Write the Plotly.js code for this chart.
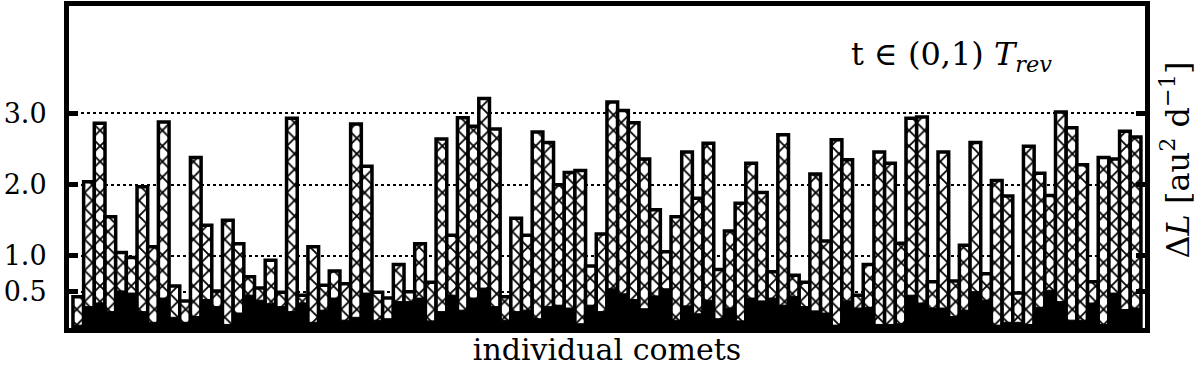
<!DOCTYPE html>
<html>
<head>
<meta charset="utf-8">
<script src="https://cdn.plot.ly/plotly-3.0.1.min.js"></script>
<style>
  body { margin: 0; background: white; }
  #plot { width: 1200px; height: 376px; }
</style>
</head>
<body>
<div id="plot"></div>
<script>
  // total Delta L per comet (hatched boxes)
  var hatchTop = [
    0.43, 2.04, 2.86, 1.55, 1.05, 0.98, 1.97, 1.13, 2.88, 0.58,
    0.37, 2.38, 1.43, 0.51, 1.50, 1.17, 0.71, 0.55, 0.94, 0.49,
    2.93, 0.45, 1.13, 0.59, 0.79, 0.61, 2.85, 2.26, 0.49, 0.41,
    0.88, 0.50, 1.17, 0.63, 2.64, 1.29, 2.94, 2.82, 3.21, 2.78,
    0.43, 1.53, 1.29, 2.74, 2.59, 2.00, 2.17, 2.20, 0.86, 1.31,
    3.16, 3.04, 2.87, 2.36, 1.65, 1.06, 1.55, 2.46, 1.81, 2.58,
    0.81, 1.35, 1.74, 2.30, 1.89, 0.78, 2.70, 0.73, 0.63, 2.15,
    1.21, 2.63, 2.35, 0.45, 0.88, 2.46, 2.30, 1.18, 2.93, 2.95,
    0.64, 2.46, 0.65, 1.15, 2.59, 0.75, 2.06, 1.84, 0.48, 2.54,
    2.16, 1.85, 3.02, 2.80, 2.28, 0.64, 2.38, 2.36, 2.75, 2.67
  ];

  // black filled boxes
  var blackTop = [
    0.03, 0.29, 0.34, 0.22, 0.51, 0.48, 0.22, 0.07, 0.41, 0.14,
    0.07, 0.15, 0.39, 0.29, 0.04, 0.20, 0.45, 0.38, 0.33, 0.29,
    0.22, 0.34, 0.07, 0.24, 0.41, 0.10, 0.14, 0.48, 0.10, 0.12,
    0.36, 0.36, 0.41, 0.09, 0.22, 0.45, 0.24, 0.41, 0.55, 0.29,
    0.10, 0.22, 0.24, 0.12, 0.29, 0.31, 0.27, 0.05, 0.31, 0.22,
    0.54, 0.47, 0.39, 0.26, 0.44, 0.54, 0.10, 0.30, 0.19, 0.38,
    0.12, 0.27, 0.09, 0.41, 0.37, 0.41, 0.31, 0.43, 0.29, 0.23,
    0.20, 0.03, 0.37, 0.27, 0.28, 0.04, 0.04, 0.05, 0.45, 0.34,
    0.27, 0.27, 0.15, 0.24, 0.50, 0.38, 0.03, 0.07, 0.07, 0.04,
    0.28, 0.52, 0.36, 0.10, 0.10, 0.34, 0.04, 0.48, 0.25, 0.27
  ];

  var tickVals = [0.5, 1.0, 2.0, 3.0];
  var tickText = ["0.5", "1.0", "2.0", "3.0"];

  var comets = hatchTop.map(function (v, i) { return i + 1; });

  var serif = "DejaVu Serif, Liberation Serif, serif";

  var trace1 = {
    x: comets,
    y: hatchTop,
    type: "bar",
    width: 1,
    marker: {
      color: "white",
      line: { color: "black", width: 3.5 },
      pattern: { shape: "x", size: 11, solidity: 0.3, fgcolor: "black", bgcolor: "white" }
    },
    hoverinfo: "none"
  };

  var trace2 = {
    x: comets,
    y: blackTop,
    type: "bar",
    width: 1,
    marker: {
      color: "black",
      line: { color: "black", width: 1 }
    },
    hoverinfo: "none"
  };

  var data = [trace1, trace2];

  var layout = {
    width: 1200,
    height: 376,
    margin: { l: 69, r: 55, t: 6, b: 48 },
    paper_bgcolor: "white",
    plot_bgcolor: "white",
    barmode: "overlay",
    bargap: 0,
    showlegend: false,
    xaxis: {
      range: [0.13, 100.88],
      showticklabels: false,
      ticks: "",
      showgrid: false,
      zeroline: false,
      showline: true,
      linecolor: "black",
      linewidth: 5,
      mirror: true,
      title: { text: "individual comets", font: { family: serif, size: 30, color: "black" }, standoff: 8 }
    },
    yaxis: {
      range: [-0.01, 4.506],
      tickvals: tickVals,
      ticktext: tickText,
      ticks: "inside",
      ticklen: 9,
      tickwidth: 5,
      tickcolor: "black",
      ticklabelstandoff: 12,
      tickfont: { family: serif, size: 27, color: "black" },
      showgrid: true,
      gridcolor: "black",
      gridwidth: 2,
      griddash: "dot",
      zeroline: false,
      showline: true,
      linecolor: "black",
      linewidth: 5,
      mirror: "allticks"
    },
    annotations: [
      {
        text: "t ∈ (0,1) <i>T</i><sub><i>rev</i></sub>",
        xref: "paper", yref: "paper",
        x: 0.82, y: 0.845,
        xanchor: "center", yanchor: "middle",
        showarrow: false,
        font: { family: serif, size: 32, color: "black" }
      },
      {
        text: "Δ<i>L</i> [au<sup>2</sup> d<sup>−1</sup>]",
        xref: "paper", yref: "paper",
        x: 1.0, xshift: 30, y: 0.52,
        xanchor: "center", yanchor: "middle",
        textangle: -90,
        showarrow: false,
        font: { family: serif, size: 32, color: "black" }
      }
    ]
  };

  Plotly.newPlot("plot", data, layout, { displayModeBar: false, staticPlot: true });
</script>
</body>
</html>
